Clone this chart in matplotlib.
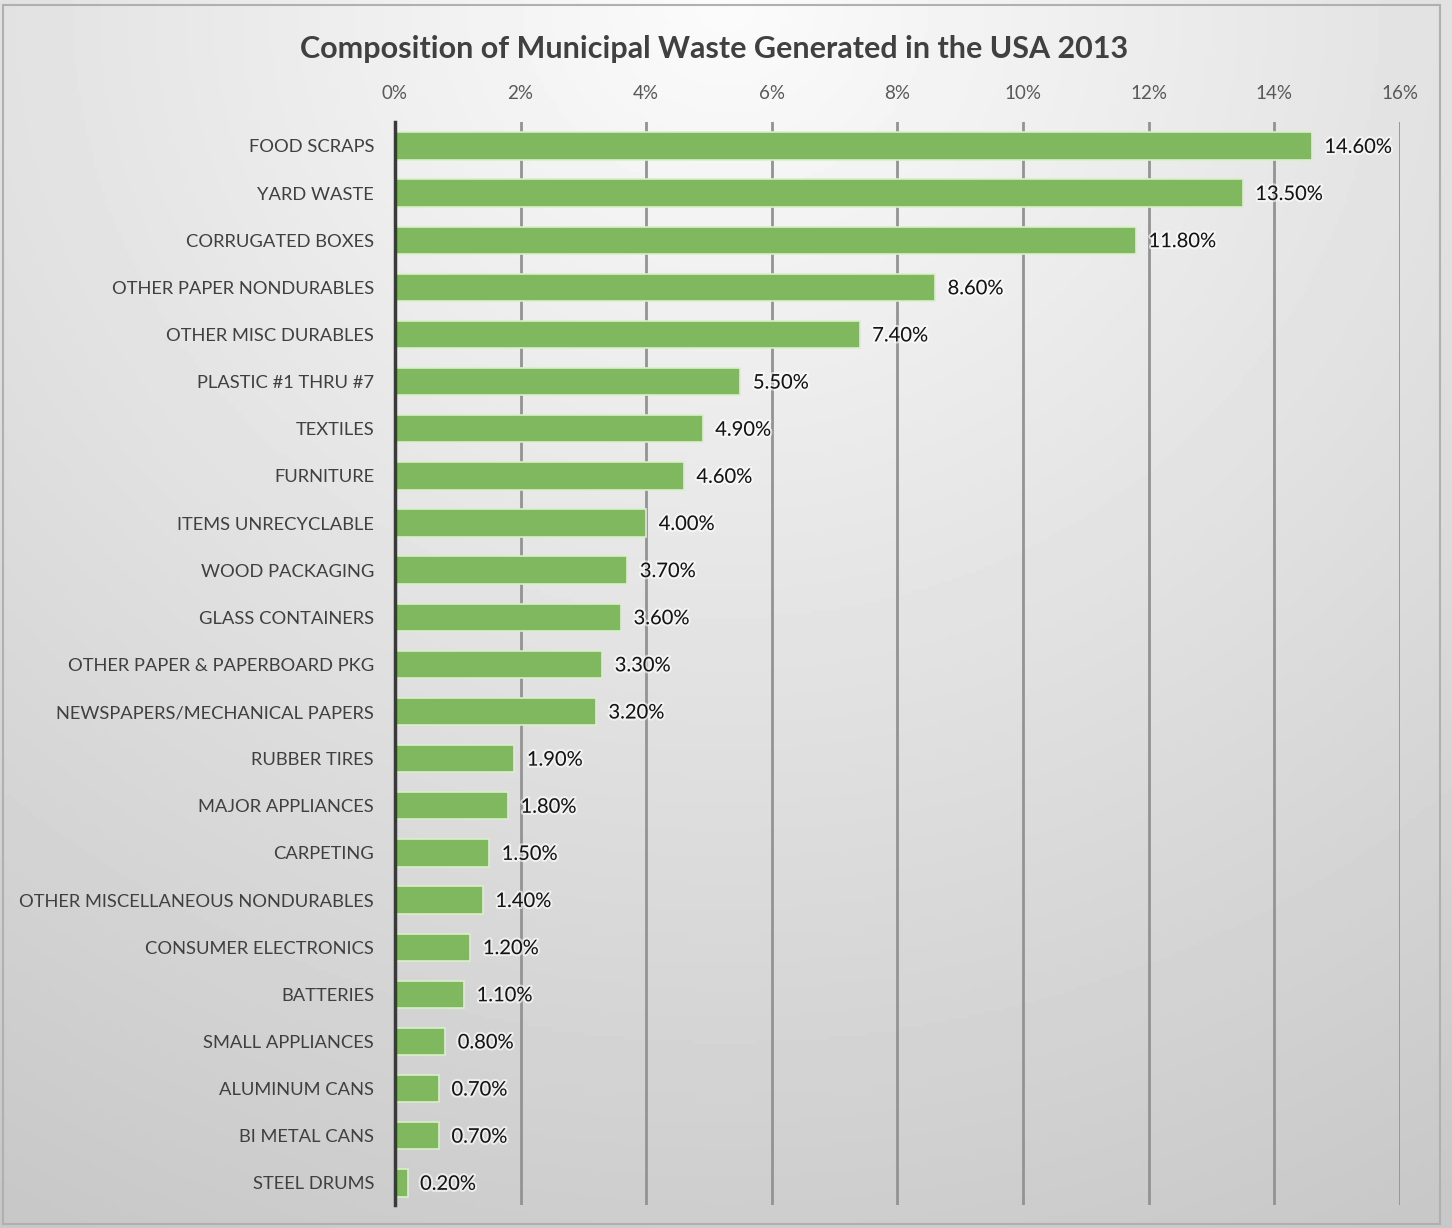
import numpy as np
import matplotlib
matplotlib.use("Agg")
import matplotlib.pyplot as plt
import matplotlib.patheffects as pe
from matplotlib.ticker import FuncFormatter

categories = ["FOOD SCRAPS", "YARD WASTE", "CORRUGATED BOXES", "OTHER PAPER NONDURABLES",
              "OTHER MISC DURABLES", "PLASTIC #1 THRU #7", "TEXTILES", "FURNITURE",
              "ITEMS UNRECYCLABLE", "WOOD PACKAGING", "GLASS CONTAINERS",
              "OTHER PAPER & PAPERBOARD PKG", "NEWSPAPERS/MECHANICAL PAPERS", "RUBBER TIRES",
              "MAJOR APPLIANCES", "CARPETING", "OTHER MISCELLANEOUS NONDURABLES",
              "CONSUMER ELECTRONICS", "BATTERIES", "SMALL APPLIANCES", "ALUMINUM CANS",
              "BI METAL CANS", "STEEL DRUMS"]
values = [14.6, 13.5, 11.8, 8.6, 7.4, 5.5, 4.9, 4.6, 4.0, 3.7, 3.6, 3.3, 3.2,
          1.9, 1.8, 1.5, 1.4, 1.2, 1.1, 0.8, 0.7, 0.7, 0.2]
xticks = [0, 2, 4, 6, 8, 10, 12, 14, 16]

plt.rcParams['font.family'] = ['Lato', 'DejaVu Sans']

fig = plt.figure(figsize=(14.52, 12.28), dpi=100)

# radial gradient background
bg = fig.add_axes([0, 0, 1, 1], zorder=-10)
yy, xx = np.mgrid[0:1:300j, 0:1:360j]
r = np.sqrt(((xx - 0.5) * 1.0) ** 2 + (yy * 0.9) ** 2)
shade = 0.985 - 0.2 * np.clip(r / 1.0, 0, 1)
bg.imshow(shade, cmap="gray", vmin=0, vmax=1, extent=[0, 1, 1, 0], aspect="auto")
bg.add_patch(plt.Rectangle((0.002, 0.003), 0.99, 0.993, fill=False,
                           edgecolor="#b0b0b0", linewidth=1.5, transform=bg.transAxes))
bg.set_xlim(0, 1)
bg.set_ylim(1, 0)
bg.axis("off")

ax = fig.add_axes([0.272, 0.0187, 0.692, 0.882])
ax.patch.set_alpha(0)
y = np.arange(len(categories))
ax.barh(y, values, height=0.58, color="#80b85f", edgecolor="#d9efc8", linewidth=1.2, zorder=3)

for yi, v in zip(y, values):
    ax.text(v + 0.2, yi + 0.03, f"{v:.2f}%", va="center", ha="left", fontsize=14.5,
            color="#141414", zorder=4,
            path_effects=[pe.withStroke(linewidth=3, foreground="white", alpha=0.6)])

ax.set_xlim(0, 16)
ax.set_ylim(len(categories) - 0.53, -0.51)
ax.set_xticks(xticks)
ax.xaxis.set_major_formatter(FuncFormatter(lambda v, p: f"{v:.0f}%"))
ax.xaxis.tick_top()
ax.tick_params(axis="x", length=0, pad=14, labelsize=13.5, labelcolor="#595959")
ax.set_yticks(y)
ax.set_yticklabels(categories)
ax.tick_params(axis="y", length=0, pad=15, labelsize=13.2, labelcolor="#404040")
ax.grid(axis="x", color="#939393", linewidth=2, zorder=0)
ax.set_axisbelow(True)
for s in ["top", "right", "bottom"]:
    ax.spines[s].set_visible(False)
ax.spines["left"].set_color("#3a3a3a")
ax.spines["left"].set_linewidth(2.5)
ax.spines["left"].set_zorder(5)

fig.text(0.492, 0.96, "Composition of Municipal Waste Generated in the USA 2013",
         ha="center", va="center", fontsize=22, fontweight="bold", color="#404040")

fig.savefig("out.png", dpi=100)
